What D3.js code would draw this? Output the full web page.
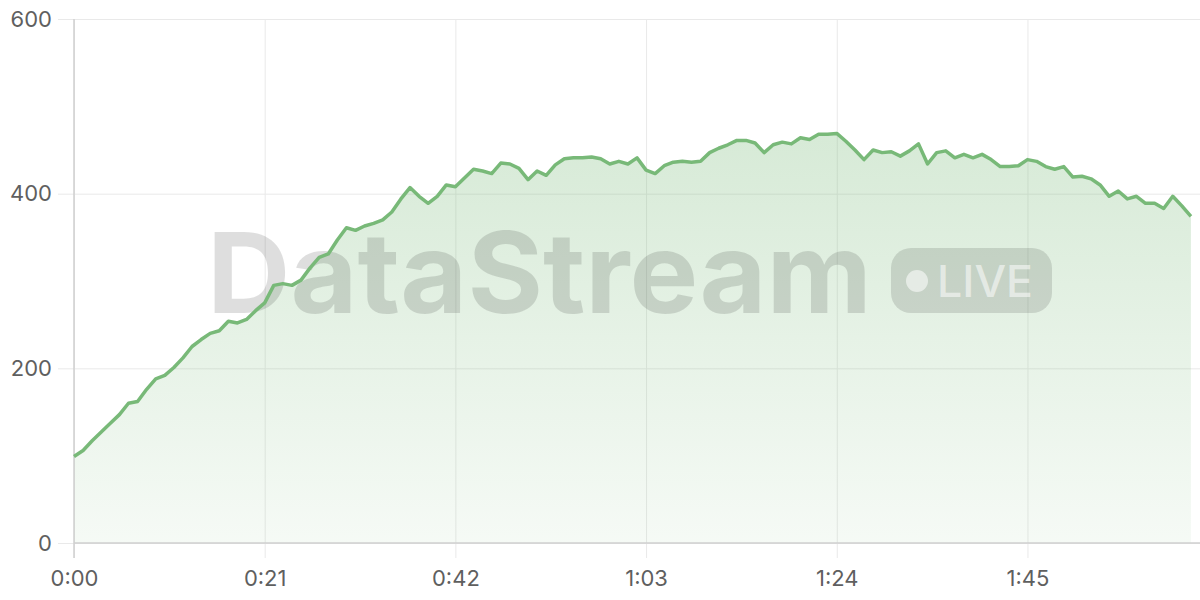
<!DOCTYPE html>
<html>
<head>
<meta charset="utf-8">
<script src="https://cdn.jsdelivr.net/npm/d3@7"></script>
<style>
  html, body { margin: 0; padding: 0; background: #fff; }
  svg { display: block; }
</style>
</head>
<body>
<svg id="chart" width="1200" height="600"></svg>
<script>
// one sample per second, starting at 0:00
const values = [
  99, 106, 117, 127, 137, 147, 160, 162, 176, 188,
  192, 201, 212, 225, 233, 240, 243, 254, 252, 256,
  266, 275, 295, 297, 295, 301, 315, 327, 331, 347,
  361, 358, 363, 366, 370, 379, 394, 407, 397, 389,
  397, 410, 408, 418, 428, 426, 423, 435, 434, 429,
  416, 426, 421, 433, 440, 441, 441, 442, 440, 434,
  437, 434, 441, 427, 423, 432, 436, 437, 436, 437,
  447, 452, 456, 461, 461, 458, 447, 456, 459, 457,
  464, 462, 468, 468, 469, 460, 450, 439, 450, 447,
  448, 443, 449, 457, 434, 447, 449, 441, 445, 441,
  445, 439, 431, 431, 432, 439, 437, 431, 428, 431,
  419, 420, 417, 410, 397, 403, 394, 397, 389, 389,
  383, 397, 386, 374
];
const xTicks = [0, 21, 42, 63, 84, 105];
const yTicks = [0, 200, 400, 600];
const watermark = "DataStream";
const badge = "LIVE";

const lineColor = "#78b978";
const gridColor = "#e9e9e9";
const axisColor = "#cfcfcf";
const labelColor = "#5f5f5f";
const font = "Inter, 'Open Sans', 'Noto Sans', sans-serif";

const plotLeft = 74;
const plotRight = 1200;
const plotTop = 19;
const plotBottom = 543;

const svg = d3.select("#chart");

// the time axis runs one second past the last sample
const x = d3.scaleLinear().domain([0, values.length]).range([plotLeft, plotRight]);
const y = d3.scaleLinear().domain([0, 600]).range([plotBottom, plotTop]);

const fmt = (s) => Math.floor(s / 60) + ":" + String(s % 60).padStart(2, "0");

// gradient for the area
const defs = svg.append("defs");
const grad = defs
  .append("linearGradient")
  .attr("id", "areaFill")
  .attr("x1", 0)
  .attr("y1", 0)
  .attr("x2", 0)
  .attr("y2", 1);
grad.append("stop").attr("offset", "0%").attr("stop-color", lineColor).attr("stop-opacity", 0.3);
grad.append("stop").attr("offset", "100%").attr("stop-color", lineColor).attr("stop-opacity", 0.07);

// horizontal grid + y labels
svg
  .append("g")
  .attr("transform", "translate(" + plotLeft + ",0)")
  .call(
    d3.axisLeft(y)
      .tickValues(yTicks)
      .tickSize(-(plotRight - plotLeft))
      .tickSizeOuter(0)
  )
  .call((g) => g.select(".domain").remove())
  .call((g) => g.selectAll(".tick line").attr("stroke", gridColor).attr("x1", -16))
  .call((g) =>
    g.selectAll(".tick text")
      .attr("fill", labelColor)
      .style("font-family", font)
      .style("font-size", "22px")
      .attr("x", -22)
  );

// vertical grid + x labels
svg
  .append("g")
  .attr("transform", "translate(0," + plotBottom + ")")
  .call(
    d3.axisBottom(x)
      .tickValues(xTicks)
      .tickFormat(fmt)
      .tickSize(-(plotBottom - plotTop))
      .tickSizeOuter(0)
  )
  .call((g) => g.select(".domain").remove())
  .call((g) => g.selectAll(".tick line").attr("stroke", gridColor).attr("y1", 15))
  .call((g) =>
    g.selectAll(".tick text")
      .attr("fill", labelColor)
      .style("font-family", font)
      .style("font-size", "22px")
      .attr("y", 27)
  );

// area + axis lines
const area = d3
  .area()
  .x((d, i) => x(i))
  .y0(y(0))
  .y1((d) => y(d));

svg.append("path").datum(values).attr("d", area).attr("fill", "url(#areaFill)");

svg
  .append("line")
  .attr("x1", plotLeft)
  .attr("x2", plotRight)
  .attr("y1", plotBottom)
  .attr("y2", plotBottom)
  .attr("stroke", axisColor)
  .attr("stroke-width", 1.5);

svg
  .append("line")
  .attr("x1", plotLeft)
  .attr("x2", plotLeft)
  .attr("y1", plotTop)
  .attr("y2", plotBottom + 15)
  .attr("stroke", axisColor)
  .attr("stroke-width", 1.5);

// watermark
const wm = svg.append("g").attr("pointer-events", "none");

wm.append("text")
  .attr("x", 207)
  .attr("y", 313)
  .attr("textLength", 665)
  .attr("lengthAdjust", "spacingAndGlyphs")
  .style("font-family", font)
  .style("font-weight", 700)
  .style("font-size", "112px")
  .attr("fill", "rgba(0,0,0,0.13)")
  .text(watermark);

wm.append("rect")
  .attr("x", 891)
  .attr("y", 248)
  .attr("width", 161)
  .attr("height", 65)
  .attr("rx", 20)
  .attr("fill", "rgba(0,0,0,0.12)");

wm.append("circle")
  .attr("cx", 917)
  .attr("cy", 281)
  .attr("r", 11)
  .attr("fill", "rgba(255,255,255,0.55)");

wm.append("text")
  .attr("x", 937)
  .attr("y", 297)
  .attr("textLength", 96)
  .attr("lengthAdjust", "spacingAndGlyphs")
  .style("font-family", font)
  .style("font-weight", 500)
  .style("font-size", "44px")
  .attr("fill", "rgba(255,255,255,0.55)")
  .text(badge);

// line on top
const line = d3
  .line()
  .x((d, i) => x(i))
  .y((d) => y(d));

svg
  .append("path")
  .datum(values)
  .attr("d", line)
  .attr("fill", "none")
  .attr("stroke", lineColor)
  .attr("stroke-width", 3.5)
  .attr("stroke-linejoin", "round");
</script>
</body>
</html>
